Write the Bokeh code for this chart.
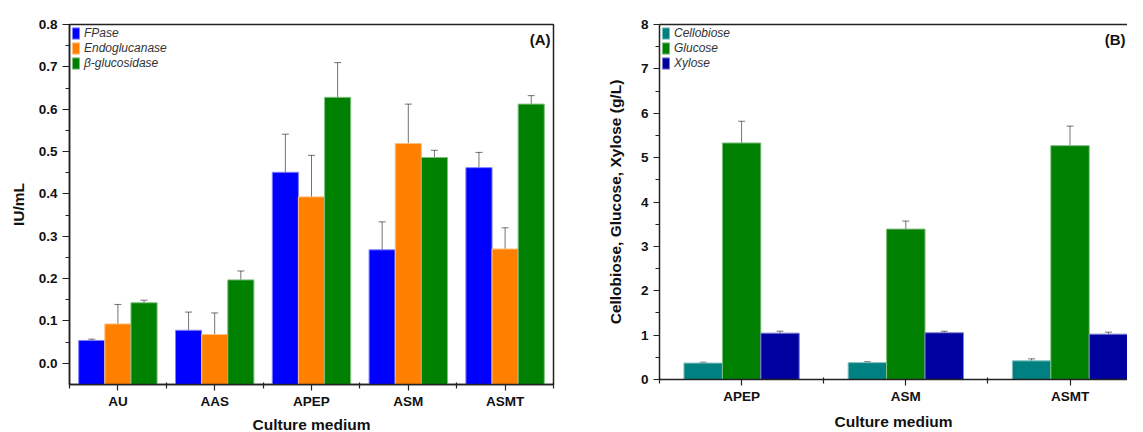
from bokeh.plotting import figure
from bokeh.layouts import row
from bokeh.models import (Range1d, FixedTicker, LinearAxis, Whisker, TeeHead,
                          ColumnDataSource, Label, PrintfTickFormatter)
from bokeh.transform import dodge
from bokeh.embed import file_html
from bokeh.resources import INLINE

# ---------------- data (A) enzymes ----------------
media_a = ["AU", "AAS", "APEP", "ASM", "ASMT"]
fpase = [0.054, 0.078, 0.451, 0.268, 0.462]
fpase_err = [0.003, 0.043, 0.090, 0.066, 0.036]
endo = [0.093, 0.068, 0.393, 0.519, 0.270]
endo_err = [0.046, 0.051, 0.098, 0.093, 0.050]
bgluc = [0.143, 0.197, 0.628, 0.486, 0.612]
bgluc_err = [0.006, 0.021, 0.082, 0.017, 0.020]
ticks_a = [0, 0.1, 0.2, 0.3, 0.4, 0.5, 0.6, 0.7, 0.8]

# ---------------- data (B) sugars ----------------
media_b = ["APEP", "ASM", "ASMT"]
cellobiose = [0.37, 0.38, 0.42]
cellobiose_err = [0.02, 0.02, 0.045]
glucose = [5.33, 3.39, 5.27]
glucose_err = [0.49, 0.18, 0.44]
xylose = [1.045, 1.053, 1.022]
xylose_err = [0.045, 0.035, 0.045]
ticks_b = [0, 1, 2, 3, 4, 5, 6, 7, 8]

FONT = "Liberation Sans"
AX = "#222222"


def style_axes(p, major_out, minor_out):
    for ax in p.axis:
        ax.axis_line_color = AX
        ax.axis_line_width = 1.5
        ax.major_tick_line_color = AX
        ax.minor_tick_line_color = AX
        ax.major_tick_line_width = 1.2
        ax.minor_tick_line_width = 1.2
        ax.major_tick_in = 0
        ax.major_tick_out = major_out
        ax.minor_tick_in = 0
        ax.minor_tick_out = minor_out
        ax.major_label_text_font = FONT
        ax.major_label_text_font_style = "bold"
        ax.major_label_text_font_size = "13.5px"
        ax.major_label_text_color = "#111111"
        ax.axis_label_text_font = FONT
        ax.axis_label_text_font_style = "bold"
        ax.axis_label_text_font_size = "15.5px"
        ax.axis_label_text_color = "#111111"
    p.grid.visible = False


def style_bottom(ax, title_standoff):
    ax.major_tick_out = 6
    ax.minor_tick_in = 2
    ax.minor_tick_out = 4
    ax.major_label_standoff = 3
    ax.axis_label_standoff = title_standoff


def style_legend(p):
    lg = p.legend[0]
    lg.location = "top_left"
    lg.border_line_color = None
    lg.background_fill_alpha = 0
    lg.glyph_width = 9
    lg.glyph_height = 14
    lg.label_height = 14
    lg.spacing = 1
    lg.padding = 0
    lg.margin = 2
    lg.label_standoff = 4
    lg.label_text_font = FONT
    lg.label_text_font_style = "italic"
    lg.label_text_font_size = "12px"
    lg.label_text_color = "#333333"


def add_err(p, src, off, ycol, ecol):
    src.data[ycol + "_up"] = [v + e for v, e in zip(src.data[ycol], src.data[ecol])]
    src.data[ycol + "_lo"] = [v - e for v, e in zip(src.data[ycol], src.data[ecol])]
    w = Whisker(source=src, base=dodge("x", off, range=p.x_range),
                upper=ycol + "_up", lower=ycol + "_lo",
                line_color="black", line_alpha=0.55, line_width=1,
                upper_head=TeeHead(size=7, line_color="black", line_alpha=0.55, line_width=1),
                lower_head=TeeHead(size=7, line_color="black", line_alpha=0.55, line_width=1))
    p.add_layout(w)


# ================= panel A =================
xa = list(range(1, len(media_a) + 1))
src_a = ColumnDataSource(dict(x=xa, fpase=fpase, fpase_err=fpase_err,
                              endo=endo, endo_err=endo_err,
                              bgluc=bgluc, bgluc_err=bgluc_err))
pa = figure(x_range=Range1d(0.5, 5.5), y_range=Range1d(-0.05, 0.8),
            frame_width=484, frame_height=360,
            min_border_left=69, min_border_right=47,
            min_border_top=23, min_border_bottom=46,
            output_backend="svg", toolbar_location=None)
pa.outline_line_color = AX
pa.outline_line_width = 1.5
pa.outline_line_alpha = 1

bw_a = 0.27
series_a = [("fpase", "FPase", "#0000FF", "#7f7fff", -bw_a),
            ("endo", "Endoglucanase", "#FF8000", "#ffbf7f", 0.0),
            ("bgluc", "β-glucosidase", "#008000", "#7fbf7f", bw_a)]
for col, lab, fc, lc, off in series_a:
    pa.vbar(x=dodge("x", off, range=pa.x_range), top=col, bottom=-0.05, width=bw_a,
            source=src_a, fill_color=fc, line_color=lc, line_width=1,
            legend_label=lab)
for col, lab, fc, lc, off in series_a:
    add_err(pa, src_a, off, col, col + "_err")

pa.xaxis.ticker = FixedTicker(ticks=xa, minor_ticks=[i + 0.5 for i in range(0, len(xa) + 1)])
pa.xaxis.major_label_overrides = {x: m for x, m in zip(xa, media_a)}
pa.yaxis.ticker = FixedTicker(ticks=ticks_a,
                              minor_ticks=[t + 0.05 for t in ticks_a[:-1]])
pa.yaxis.formatter = PrintfTickFormatter(format="%.1f")
pa.xaxis.axis_label = "Culture medium"
pa.yaxis.axis_label = "IU/mL"
style_axes(pa, 7, 4)
style_bottom(pa.xaxis[0], 4)
pa.yaxis.major_label_standoff = 5
pa.yaxis.axis_label_standoff = 9
style_legend(pa)
pa.add_layout(Label(x=5.5, y=0.8, x_offset=-3, y_offset=-6, text="(A)",
                    text_align="right", text_baseline="top",
                    text_font=FONT, text_font_style="bold",
                    text_font_size="15px", text_color="#111111"))

# ================= panel B =================
xb = list(range(1, len(media_b) + 1))
src_b = ColumnDataSource(dict(x=xb, cel=cellobiose, cel_err=cellobiose_err,
                              glu=glucose, glu_err=glucose_err,
                              xyl=xylose, xyl_err=xylose_err))
pb = figure(x_range=Range1d(0.5, 3.35), y_range=Range1d(0, 8),
            frame_width=468, frame_height=355,
            min_border_left=59, min_border_right=0,
            min_border_top=24, min_border_bottom=49,
            output_backend="svg", toolbar_location=None)
pb.outline_line_color = None

bw_b = 0.234
series_b = [("cel", "Cellobiose", "#008080", "#7fbfbf", -bw_b),
            ("glu", "Glucose", "#008000", "#7fbf7f", 0.0),
            ("xyl", "Xylose", "#0000A0", "#7f7fcf", bw_b)]
for col, lab, fc, lc, off in series_b:
    pb.vbar(x=dodge("x", off, range=pb.x_range), top=col, bottom=0, width=bw_b,
            source=src_b, fill_color=fc, line_color=lc, line_width=1,
            legend_label=lab)
for col, lab, fc, lc, off in series_b:
    add_err(pb, src_b, off, col, col + "_err")

bottom_b = pb.below[0]
bottom_b.ticker = FixedTicker(ticks=xb, minor_ticks=[i + 0.5 for i in range(0, len(xb) + 1)])
bottom_b.major_label_overrides = {x: m for x, m in zip(xb, media_b)}
bottom_b.axis_label = "Culture medium"
pb.yaxis.ticker = FixedTicker(ticks=ticks_b, minor_ticks=[t + 0.5 for t in ticks_b[:-1]])
pb.yaxis.axis_label = "Cellobiose, Glucose, Xylose (g/L)"

top_axis = LinearAxis(ticker=FixedTicker(ticks=[]))
pb.add_layout(top_axis, "above")

style_axes(pb, 6, 4)
style_bottom(bottom_b, 6)
pb.yaxis.major_label_standoff = 5
pb.yaxis.axis_label_standoff = 14
top_axis.major_tick_out = 0
top_axis.minor_tick_out = 0
top_axis.major_label_text_font_size = "0px"
top_axis.major_label_standoff = 0
style_legend(pb)
pb.add_layout(Label(x=3.35, y=8, x_offset=-2, y_offset=-6, text="(B)",
                    text_align="right", text_baseline="top",
                    text_font=FONT, text_font_style="bold",
                    text_font_size="15px", text_color="#111111"))

layout = row(pa, pb)
open("out.html", "w").write(file_html(layout, INLINE))
